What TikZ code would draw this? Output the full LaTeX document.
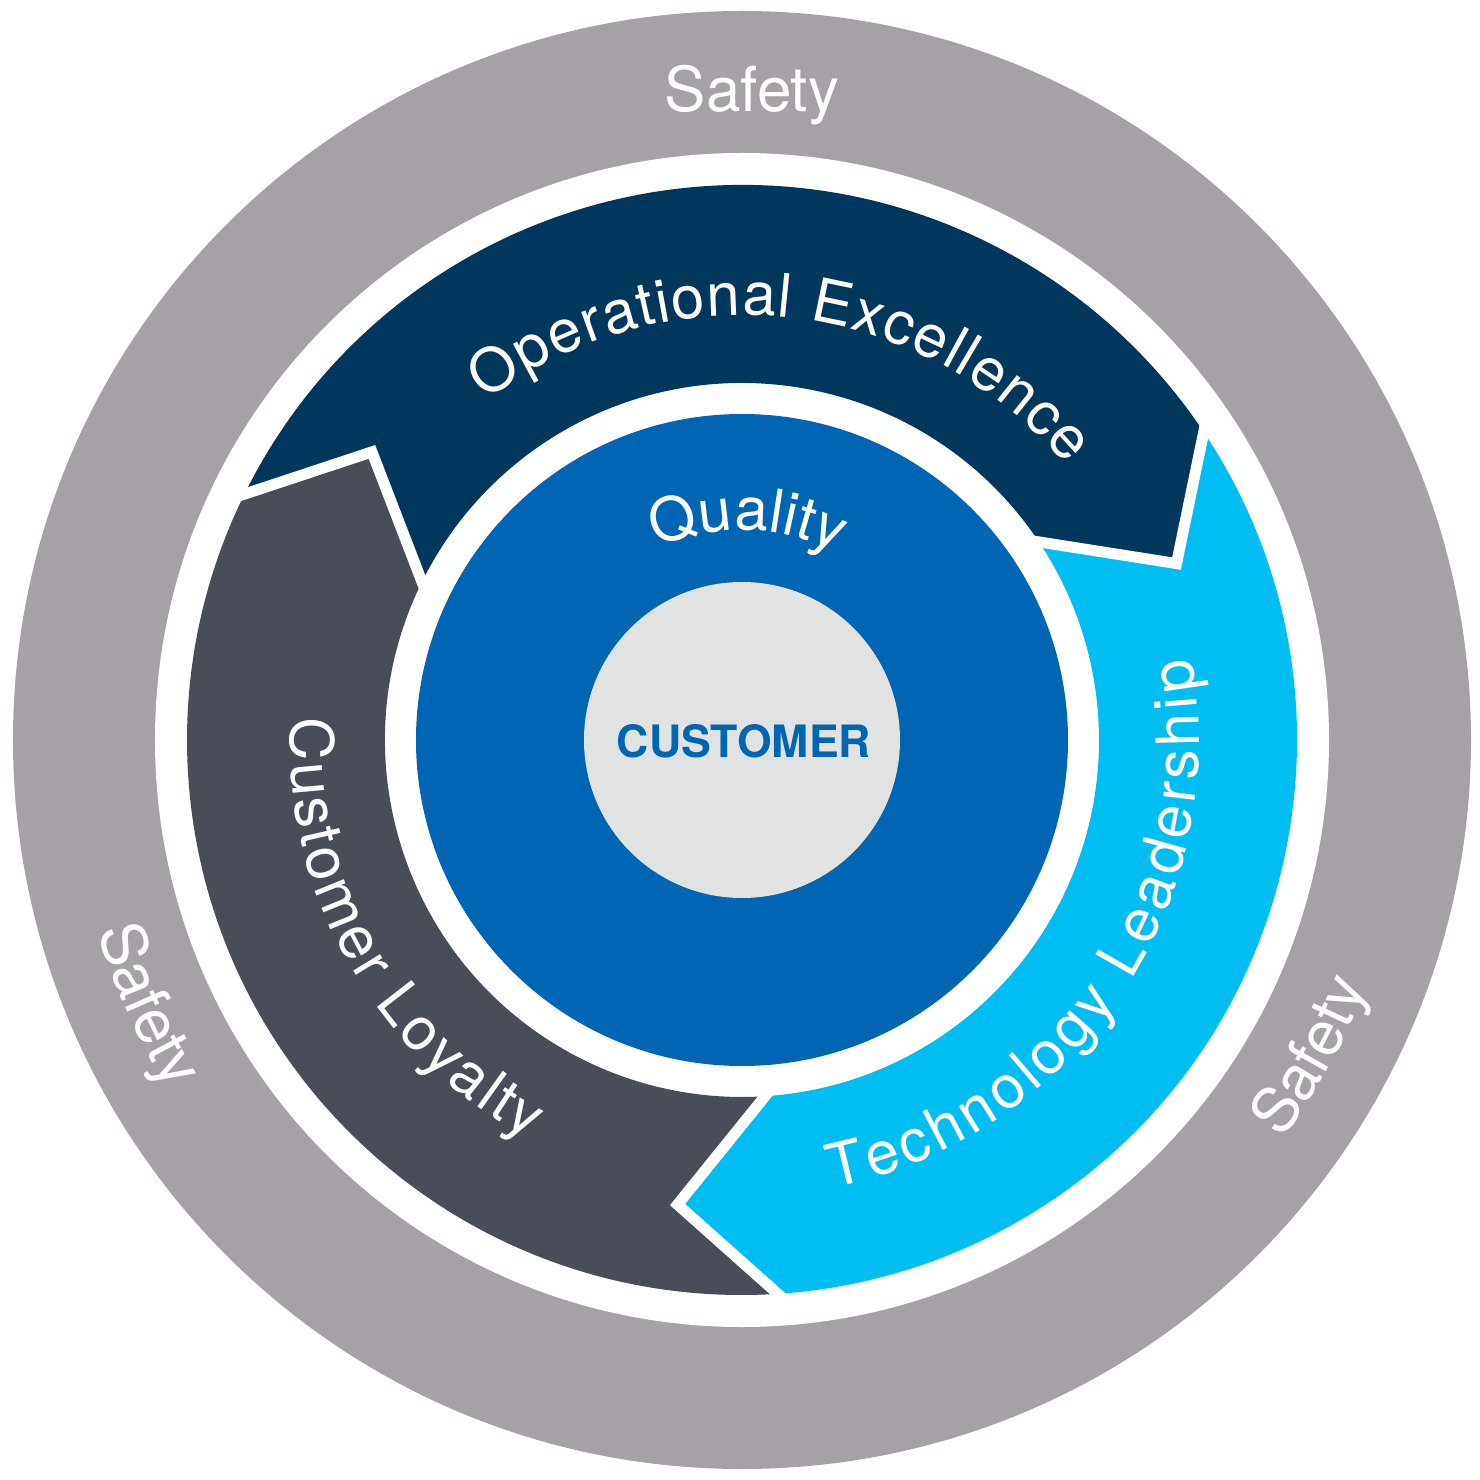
\documentclass[tikz,border=0pt]{standalone}
\usepackage{fontspec}
\usetikzlibrary{decorations.text,calc}
\newfontfamily\helv{TeX Gyre Heros}
\definecolor{ringgray}{HTML}{A6A1A6}
\definecolor{navy}{HTML}{00375C}
\definecolor{slate}{HTML}{494D57}
\definecolor{sky}{HTML}{00BEF2}
\definecolor{qblue}{HTML}{0065B2}
\definecolor{core}{HTML}{E1E3E3}
\newcommand\arcfont{\helv\fontsize{60}{72}\selectfont}
\newcommand\safefont{\helv\fontsize{62}{74}\selectfont}
\newcommand\custfont{\helv\bfseries\fontsize{44.6}{52}\selectfont}
\begin{document}
\begin{tikzpicture}[
  sep/.style={draw=white, line width=11pt, line join=miter, miter limit=20},
]
\useasboundingbox (-742pt,-740pt) rectangle (738pt,740pt);
% outer safety ring
\fill[ringgray] (0,0) circle[radius=729pt];
\fill[white] (0,0) circle[radius=587pt];
% arrow boundary points
\coordinate (o1) at (153.7:555pt);
\coordinate (t1) at (142.1:469pt);
\coordinate (i1) at (153.7:357pt);
\coordinate (o2) at (33.7:555pt);
\coordinate (t2) at (22.1:469pt);
\coordinate (i2) at (33.7:357pt);
\coordinate (o3) at (-86.3:555pt);
\coordinate (t3) at (-97.9:469pt);
\coordinate (i3) at (-86.3:357pt);
% arrows
\fill[navy] (o1) arc[start angle=153.7, end angle=33.7, radius=555pt] -- (t2) -- (i2)
  arc[start angle=33.7, end angle=153.7, radius=357pt] -- (t1) -- cycle;
\fill[sky] (o2) arc[start angle=33.7, end angle=-86.3, radius=555pt] -- (t3) -- (i3)
  arc[start angle=-86.3, end angle=33.7, radius=357pt] -- (t2) -- cycle;
\fill[slate] (o3) arc[start angle=273.7, end angle=153.7, radius=555pt] -- (t1) -- (i1)
  arc[start angle=153.7, end angle=273.7, radius=357pt] -- (t3) -- cycle;
% white separators
\draw[sep] ($(t1)!1.12!(o1)$) -- (t1) -- ($(t1)!1.12!(i1)$);
\draw[sep] ($(t2)!1.12!(o2)$) -- (t2) -- ($(t2)!1.12!(i2)$);
\draw[sep] ($(t3)!1.12!(o3)$) -- (t3) -- ($(t3)!1.12!(i3)$);
% quality disc and customer core
\fill[qblue] (0,0) circle[radius=326pt];
\fill[core] (0,0) circle[radius=158pt];
\node[anchor=base, text=qblue, font=\custfont, inner sep=0pt] (cust) at (2pt,-18pt) {CUSTOMER};
% safety labels
\node[anchor=base, text=white, font=\safefont, inner sep=0pt] (safetop) at (10pt,628pt) {Safety};
\path[decorate, decoration={text along path, text color=white, text align=center,
  text={|\safefont|Safety}}] (190:672pt) arc[start angle=190, end angle=218, radius=672pt];
\path[decorate, decoration={text along path, text color=white, text align=center,
  text={|\safefont|Safety}}] (317:672pt) arc[start angle=317, end angle=345, radius=672pt];
% arrow labels
\path[decorate, decoration={text along path, text color=white, text align=fit to path,
  text={|\arcfont|Operational Excellence}}] (127:425pt) arc[start angle=127, end angle=40.3, radius=425pt];
\path[decorate, decoration={text along path, text color=white, text align=fit to path,
  text={|\arcfont|Customer Loyalty}}] (177.2:452pt) arc[start angle=177.2, end angle=242, radius=452pt];
\path[decorate, decoration={text along path, text color=white, text align=fit to path,
  text={|\arcfont|Technology Leadership}}] (-78.6:457pt) arc[start angle=-78.6, end angle=10.3, radius=457pt];
\path[decorate, decoration={text along path, text color=white, text align=fit to path,
  text={|\arcfont|Quality}}] (114:210pt) arc[start angle=114, end angle=63.5, radius=210pt];
\end{tikzpicture}
\end{document}
